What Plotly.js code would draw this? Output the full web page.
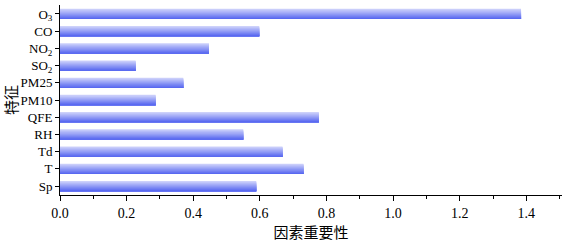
<!DOCTYPE html>
<html>
<head>
<meta charset="utf-8">
<script src="https://cdn.plot.ly/plotly-3.0.1.min.js"></script>
<style>html,body{margin:0;padding:0;background:#fff;}#chart{width:566px;height:243px;}</style>
</head>
<body>
<div id="chart"></div>
<script>
// Data (bottom to top)
const features = ["Sp", "T", "Td", "RH", "QFE", "PM10", "PM25", "SO<sub>2</sub>", "NO<sub>2</sub>", "CO", "O<sub>3</sub>"];
const importance = [0.589, 0.731, 0.668, 0.550, 0.777, 0.287, 0.370, 0.227, 0.447, 0.598, 1.384];
const xTickVals = [0, 0.2, 0.4, 0.6, 0.8, 1.0, 1.2, 1.4];
const xTickText = ["0.0", "0.2", "0.4", "0.6", "0.8", "1.0", "1.2", "1.4"];

// Gradient bars: nested overlaid bars, each one reaching the bar bottom
const N = 20, barW = 0.6, stripeW = barW / N;
const colTop = [208, 212, 251], colBot = [86, 102, 240];
const traces = [];
for (let i = 0; i < N; i++) {
  const t = i / (N - 1);
  const c = colTop.map((v, k) => Math.round(v + (colBot[k] - v) * t));
  traces.push({
    type: "bar", orientation: "h",
    x: importance, y: features,
    width: barW - i * stripeW, offset: -barW / 2,
    marker: {color: `rgb(${c[0]},${c[1]},${c[2]})`, line: {width: 0}},
    hoverinfo: "skip", showlegend: false
  });
}

const serif = "Liberation Serif, Times New Roman, serif";
const layout = {
  width: 566, height: 243,
  margin: {l: 60, r: 4, t: 5, b: 48},
  barmode: "overlay",
  paper_bgcolor: "#fff", plot_bgcolor: "#fff",
  xaxis: {
    range: [0, 1.507], showgrid: false, zeroline: false,
    showline: true, linecolor: "#000", linewidth: 1,
    ticks: "outside", ticklen: 5, tickcolor: "#000",
    tickvals: xTickVals, ticktext: xTickText,
    minor: {ticks: "outside", ticklen: 3, dtick: 0.1, tickcolor: "#000"},
    tickfont: {family: serif, size: 14, color: "#000"},
    title: {text: "因素重要性", font: {family: "Noto Sans CJK SC", size: 15, color: "#000"}, standoff: 6}
  },
  yaxis: {
    type: "category", categoryorder: "array", categoryarray: features,
    range: [-0.52, 10.52], showgrid: false, zeroline: false,
    showline: true, linecolor: "#000", linewidth: 1,
    ticks: "outside", ticklen: 4, tickcolor: "#000",
    tickfont: {family: serif, size: 13, color: "#000"},
    title: {text: "特征", font: {family: "Noto Sans CJK SC", size: 15, color: "#000"}, standoff: 3}
  }
};
Plotly.newPlot("chart", traces, layout, {staticPlot: true, displayModeBar: false});
</script>
</body>
</html>
